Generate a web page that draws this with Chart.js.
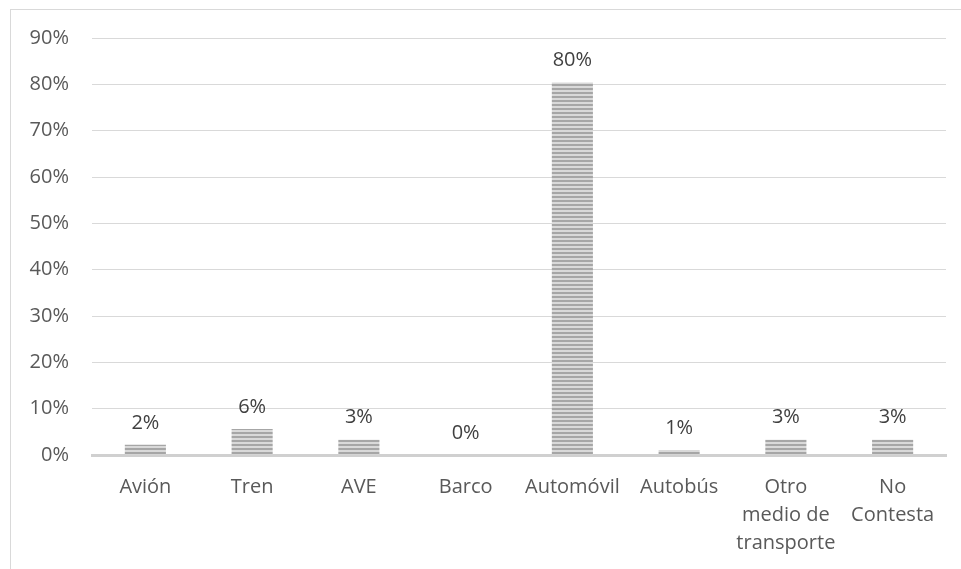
<!DOCTYPE html>
<html>
<head>
<meta charset="utf-8">
<script src="https://cdn.jsdelivr.net/npm/chart.js@4"></script>
<style>
    html, body { margin: 0; padding: 0; background: #fff; }
    #wrap { width: 961px; height: 569px; }
</style>
</head>
<body>
<div id="wrap"><canvas id="chart"></canvas></div>
<script>
// medios de transporte
var categorias = ['Avión', 'Tren', 'AVE', 'Barco', 'Automóvil', 'Autobús', ['Otro', 'medio de', 'transporte'], ['No', 'Contesta']];
var porcentajes = [0.022, 0.056, 0.033, 0, 0.804, 0.011, 0.033, 0.033];
var ticksY = [0, 0.1, 0.2, 0.3, 0.4, 0.5, 0.6, 0.7, 0.8, 0.9];

var fuente = '"Open Sans", sans-serif';

// relleno rayado horizontal de las barras
function rayado() {
    var c = document.createElement('canvas');
    c.width = 4;
    c.height = 4;
    var g = c.getContext('2d');
    g.fillStyle = '#d9d9d9';
    g.fillRect(0, 0, 4, 4);
    g.fillStyle = '#a6a6a6';
    g.fillRect(0, 0, 4, 2);
    return g.createPattern(c, 'repeat');
}

// marco del grafico (solo se ve arriba y a la izquierda)
var marco = {
    id: 'marco',
    beforeDraw: function (chart) {
        var ctx = chart.ctx;
        ctx.save();
        ctx.strokeStyle = '#d9d9d9';
        ctx.lineWidth = 1;
        ctx.strokeRect(10.5, 9.5, 2000, 2000);
        ctx.restore();
    }
};

// etiquetas de valor sobre cada barra
var etiquetas = {
    id: 'etiquetas',
    afterDatasetsDraw: function (chart) {
        var ctx = chart.ctx;
        var meta = chart.getDatasetMeta(0);
        ctx.save();
        ctx.font = '20px ' + fuente;
        ctx.fillStyle = '#404040';
        ctx.textAlign = 'center';
        ctx.textBaseline = 'middle';
        meta.data.forEach(function (bar, i) {
            var txt = Math.round(porcentajes[i] * 100) + '%';
            ctx.fillText(txt, bar.x, bar.y - 22);
        });
        ctx.restore();
    }
};

var ctx = document.getElementById('chart').getContext('2d');
var grafico = new Chart(ctx, {
    type: 'bar',
    data: {
        labels: categorias,
        datasets: [{
            data: porcentajes,
            backgroundColor: rayado(),
            borderWidth: 0,
            barPercentage: 0.385,
            categoryPercentage: 1
        }]
    },
    options: {
        responsive: true,
        maintainAspectRatio: false,
        animation: false,
        layout: {
            padding: {top: 38, right: 15, left: 0, bottom: 0}
        },
        plugins: {
            legend: {display: false},
            tooltip: {enabled: false}
        },
        scales: {
            x: {
                grid: {display: false, drawTicks: false},
                border: {color: '#d0d0d0', width: 3},
                ticks: {
                    color: '#595959',
                    padding: 18,
                    maxRotation: 0,
                    autoSkip: false,
                    font: {family: fuente, size: 20, lineHeight: 1.4}
                },
                afterFit: function (scale) {
                    scale.height = 114;
                }
            },
            y: {
                min: 0,
                max: 0.9,
                afterBuildTicks: function (scale) {
                    scale.ticks = ticksY.map(function (v) { return {value: v}; });
                },
                grid: {color: '#d9d9d9', lineWidth: 1, drawTicks: false},
                border: {display: false},
                ticks: {
                    color: '#595959',
                    padding: 23,
                    font: {family: fuente, size: 20},
                    callback: function (v) { return Math.round(v * 100) + '%'; }
                },
                afterFit: function (scale) {
                    scale.width = 92;
                }
            }
        }
    },
    plugins: [marco, etiquetas]
});
</script>
</body>
</html>
